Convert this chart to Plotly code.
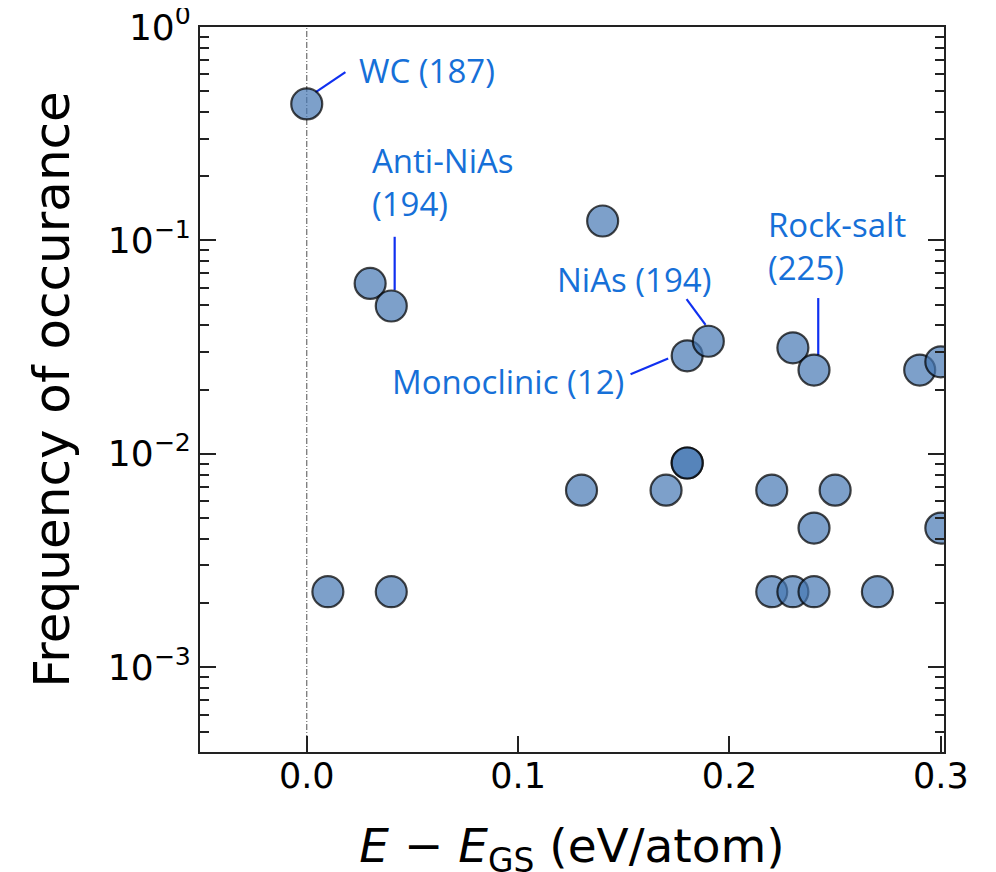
import numpy as np
import plotly.graph_objects as go

# ---- data ----
energy = [0.00, 0.03, 0.04, 0.14, 0.18, 0.19, 0.23, 0.24, 0.29, 0.30,
          0.18, 0.18, 0.13, 0.17, 0.22, 0.25, 0.24, 0.30,
          0.01, 0.04, 0.22, 0.23, 0.24, 0.27]
frequency = [0.436, 0.0629, 0.0493, 0.1233, 0.0288, 0.0337, 0.0314, 0.0247, 0.0247, 0.0270,
             0.00906, 0.00906, 0.00676, 0.00676, 0.00676, 0.00676, 0.00449, 0.00449,
             0.00226, 0.00226, 0.00226, 0.00226, 0.00226, 0.00226]

x_tick_vals = [0.0, 0.1, 0.2, 0.3]
x_tick_text = ["0.0", "0.1", "0.2", "0.3"]
y_tick_vals = [1e-3, 1e-2, 1e-1, 1e0]
y_tick_text = ["10<sup>\u22123</sup>", "10<sup>\u22122</sup>", "10<sup>\u22121</sup>", "10<sup>0</sup>"]
y_minor_vals = [m * 10.0 ** e for e in (-4, -3, -2, -1) for m in range(2, 10) if m * 10.0 ** e > 3.9e-4]

# labels: text, anchor (x, log10 y), connector line endpoints (x, y)
label_text = ["WC (187)", "Anti-NiAs<br>(194)", "NiAs (194)", "Monoclinic (12)", "Rock-salt<br>(225)"]
label_x = [0.0237, 0.0298, 0.1174, 0.0393, 0.2172]
label_logy = [-0.205, -0.724, -1.181, -1.659, -1.026]
conn_x = [[0.0041, 0.0183], [0.0416, 0.0416], [0.1797, 0.1887], [0.1532, 0.1710], [0.2420, 0.2420]]
conn_y = [[0.494, 0.615], [0.104, 0.0586], [0.0531, 0.0402], [0.02358, 0.0280], [0.0537, 0.0290]]

FONT = "DejaVu Sans"
LABEL_FONT = "Open Sans"
TEXT_BLUE = "#1670d8"
LINE_BLUE = "#1030f0"

fig = go.Figure()

# connector lines
for cx, cy in zip(conn_x, conn_y):
    fig.add_trace(go.Scatter(x=cx, y=cy, mode="lines",
                             line=dict(color=LINE_BLUE, width=2.2),
                             hoverinfo="skip", showlegend=False))

fig.add_trace(go.Scatter(
    x=energy, y=frequency, mode="markers",
    marker=dict(size=31, color="rgba(70,120,180,0.7)",
                line=dict(color="rgba(0,0,0,0.72)", width=2.2)),
    showlegend=False))

# vertical dash-dot reference line at E = E_GS
fig.add_shape(type="line", xref="x", yref="paper", x0=0, x1=0, y0=0, y1=1,
              line=dict(color="rgb(110,110,110)", width=1.2, dash="6px,2px,1px,2px"),
              layer="below")

for t, lx, ly in zip(label_text, label_x, label_logy):
    fig.add_annotation(x=lx, y=ly, xref="x", yref="y", text=t, showarrow=False,
                       xanchor="left", yanchor="middle", align="left",
                       font=dict(family=LABEL_FONT, size=33, color=TEXT_BLUE))

# the page body adds an 8px offset; margins compensate for it
fig.update_layout(
    width=996, height=872,
    margin=dict(l=192, r=60, t=19, b=128),
    plot_bgcolor="white", paper_bgcolor="white",
    font=dict(family=FONT, color="black"),
)

fig.update_xaxes(
    range=[-0.0505, 0.3015], automargin=False,
    tickvals=x_tick_vals, ticktext=x_tick_text,
    ticks="inside", ticklen=16, tickwidth=2, tickcolor="#222",
    ticklabelstandoff=-8, ticklabeloverflow="allow",
    showline=True, linecolor="#222", linewidth=2, mirror=True,
    showgrid=False, zeroline=False,
    tickfont=dict(family=FONT, size=35, color="black"),
    title=dict(text="<i>E</i> \u2212 <i>E</i><sub>GS</sub> (eV/atom)",
               font=dict(family=FONT, size=47, color="black"), standoff=34),
)

fig.update_yaxes(
    type="log", range=[-3.397, 0], automargin=False,
    tickvals=y_tick_vals, ticktext=y_tick_text,
    ticks="inside", ticklen=16, tickwidth=2, tickcolor="#222",
    ticklabeloverflow="allow",
    minor=dict(ticks="inside", ticklen=9, tickwidth=2, tickcolor="#222", tickvals=y_minor_vals, showgrid=False),
    showline=True, linecolor="#222", linewidth=2, mirror="ticks",
    showgrid=False, zeroline=False,
    tickfont=dict(family=FONT, size=36, color="black"),
    title=dict(text="Frequency of occurance",
               font=dict(family=FONT, size=50, color="black"), standoff=22),
)

fig.write_html("out.html")
